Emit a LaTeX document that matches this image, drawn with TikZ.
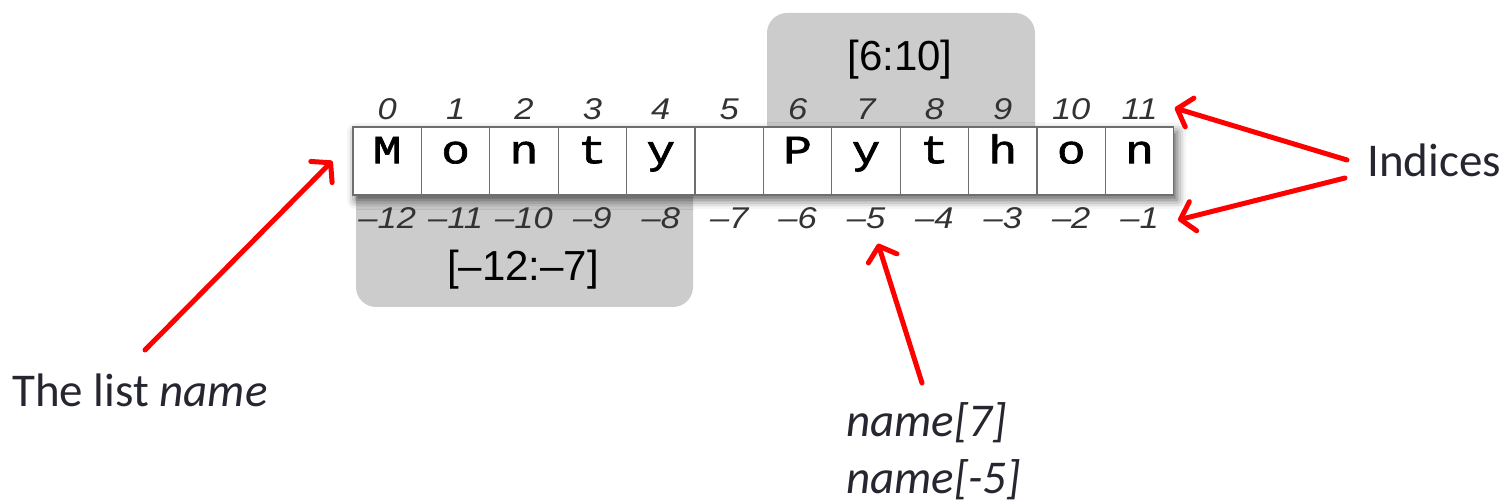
\documentclass[tikz,border=0pt]{standalone}
\usepackage{fontspec}
\setmainfont{Carlito}
\newfontfamily\helv{Liberation Sans}
\newfontfamily\idxfont[FakeStretch=1.15]{Liberation Sans}
\newfontfamily\mono[FakeStretch=1.2,FakeBold=1.6]{Liberation Mono}
\usetikzlibrary{arrows.meta,shadows.blur}

\definecolor{slicegray}{HTML}{CCCCCC}
\definecolor{cellline}{HTML}{6E6E6E}
\definecolor{idxtext}{HTML}{333333}
\definecolor{notetext}{HTML}{262630}
\definecolor{pointer}{HTML}{FF0000}

\tikzset{
  cellbox/.style={draw=cellline, line width=1.3pt, fill=white,
    minimum width=68.4pt, minimum height=68pt, inner sep=0pt,
    text height=0.45em, text depth=0pt,
    font=\mono\fontsize{40}{40}\selectfont},
  idxlabel/.style={inner sep=0pt, text=idxtext,
    font=\idxfont\itshape\fontsize{30}{30}\selectfont},
  slicebox/.style={fill=slicegray, rounded corners=20pt},
  slicelabel/.style={inner sep=0pt, text=black,
    font=\helv\fontsize{42}{42}\selectfont},
  note/.style={inner sep=0pt, text=notetext,
    font=\fontsize{47}{57}\selectfont},
  pointerarrow/.style={draw=pointer, line width=5pt, line cap=round,
    -{Straight Barb[length=13pt,width=30pt,round]}},
}

\begin{document}
\begin{tikzpicture}[x=1pt,y=-1pt]
\useasboundingbox (0,0) rectangle (1506,502);

% slice highlights behind the cells
\fill[slicebox] (767,13) rectangle (1035,150);
\fill[slicebox] (356,170) rectangle (693,307);
\node[slicelabel] (sliceA) at (900,60) {[6:10]};
\node[slicelabel] (sliceB) at (523,270) {[–12:–7]};

% drop shadow of the whole row
\path[fill=white, blur shadow={shadow xshift=3pt, shadow yshift=-5pt,
  shadow blur radius=9pt, shadow opacity=65}] (353,127) rectangle (1174,195);

% the cells with their characters and index labels
\foreach \ch [count=\i from 0] in {M,o,n,t,y,{},P,y,t,h,o,n} {
  \pgfmathsetmacro{\cx}{353+34.2+68.4*\i}
  \pgfmathtruncatemacro{\neg}{12-\i}
  \node[cellbox] (c\i) at (\cx,161) {\ch};
  \node[idxlabel] (t\i) at (\cx,109) {\i};
  \node[idxlabel] (b\i) at (\cx,218) {–\neg};
}

% annotations
\node[note, anchor=west] (idx) at (1367,160) {Indices};
\node[note, anchor=west] (lst) at (12,390) {The list \textit{name}};
\node[note, anchor=north west, align=left] (acc) at (846,402)
  {\textit{name[7]}\\\textit{name[-5]}};

\coordinate (idxA) at (1347,160);
\coordinate (idxB) at (1345,178);
\coordinate (lstA) at (145,350);
\coordinate (accA) at (922,383);

\draw[pointerarrow] (idxA) -- ([shift={(17,-1)}]t11.east);
\draw[pointerarrow] (idxB) -- ([shift={(19,2)}]b11.east);
\draw[pointerarrow] (lstA) -- ([shift={(-20,0)}]c0.west);
\draw[pointerarrow] (accA) -- ([shift={(12,15)}]b7.south);
\end{tikzpicture}
\end{document}
